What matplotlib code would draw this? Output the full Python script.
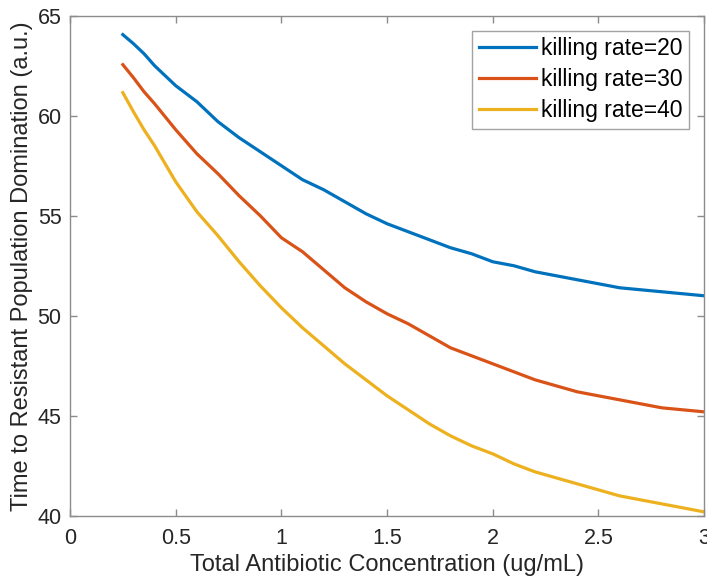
import numpy as np
import matplotlib
matplotlib.use("Agg")
import matplotlib.pyplot as plt

plt.rcParams['font.family'] = ['Liberation Sans', 'DejaVu Sans']

# antibiotic concentration (ug/mL)
conc = [0.25, 0.3, 0.35, 0.4, 0.5, 0.6, 0.7, 0.8, 0.9, 1.0,
        1.1, 1.2, 1.3, 1.4, 1.5, 1.6, 1.7, 1.8, 1.9, 2.0,
        2.1, 2.2, 2.3, 2.4, 2.5, 2.6, 2.7, 2.8, 2.9, 3.0]

# time to resistant domination, one list per killing rate
t_k20 = [64.05, 63.6, 63.1, 62.5, 61.5, 60.7, 59.7, 58.9, 58.2, 57.5,
         56.8, 56.3, 55.7, 55.1, 54.6, 54.2, 53.8, 53.4, 53.1, 52.7,
         52.5, 52.2, 52.0, 51.8, 51.6, 51.4, 51.3, 51.2, 51.1, 51.0]
t_k30 = [62.55, 61.9, 61.2, 60.6, 59.3, 58.1, 57.1, 56.0, 55.0, 53.9,
         53.2, 52.3, 51.4, 50.7, 50.1, 49.6, 49.0, 48.4, 48.0, 47.6,
         47.2, 46.8, 46.5, 46.2, 46.0, 45.8, 45.6, 45.4, 45.3, 45.2]
t_k40 = [61.15, 60.2, 59.3, 58.5, 56.7, 55.2, 54.0, 52.7, 51.5, 50.4,
         49.4, 48.5, 47.6, 46.8, 46.0, 45.3, 44.6, 44.0, 43.5, 43.1,
         42.6, 42.2, 41.9, 41.6, 41.3, 41.0, 40.8, 40.6, 40.4, 40.2]

labels = ['killing rate=20', 'killing rate=30', 'killing rate=40']
colors = ['#0072BD', '#D95319', '#EDB120']

fig = plt.figure(figsize=(7.07, 5.79), dpi=100)
ax = fig.add_axes([0.099, 0.109, 0.897, 0.864])

for y, lab, c in zip([t_k20, t_k30, t_k40], labels, colors):
    ax.plot(conc, y, color=c, lw=2.3, label=lab)

ax.set_xlim(0, 3)
ax.set_ylim(40, 65)
ax.set_xticks([0, 0.5, 1, 1.5, 2, 2.5, 3])
ax.set_xticklabels(['0', '0.5', '1', '1.5', '2', '2.5', '3'])
ax.set_yticks([40, 45, 50, 55, 60, 65])

axis_gray = '#8c8c8c'
for s in ax.spines.values():
    s.set_color(axis_gray)
    s.set_linewidth(1.0)
ax.tick_params(direction='in', top=True, right=True, length=5, width=1.0,
               color=axis_gray, labelcolor='#262626', labelsize=15.5, pad=6)
ax.tick_params(axis='x', pad=9)

ax.set_xlabel('Total Antibiotic Concentration (ug/mL)', fontsize=17, color='#262626', labelpad=3)
ax.set_ylabel('Time to Resistant Population Domination (a.u.)', fontsize=17, color='#262626', labelpad=3)

leg = ax.legend(loc='upper right', fontsize=16.5, frameon=True, fancybox=False,
                borderpad=0.3, labelspacing=0.35, handlelength=2.5,
                handletextpad=0.2, borderaxespad=0.65)
leg.get_frame().set_edgecolor(axis_gray)
leg.get_frame().set_linewidth(1.0)

fig.savefig('out.png', dpi=100)
